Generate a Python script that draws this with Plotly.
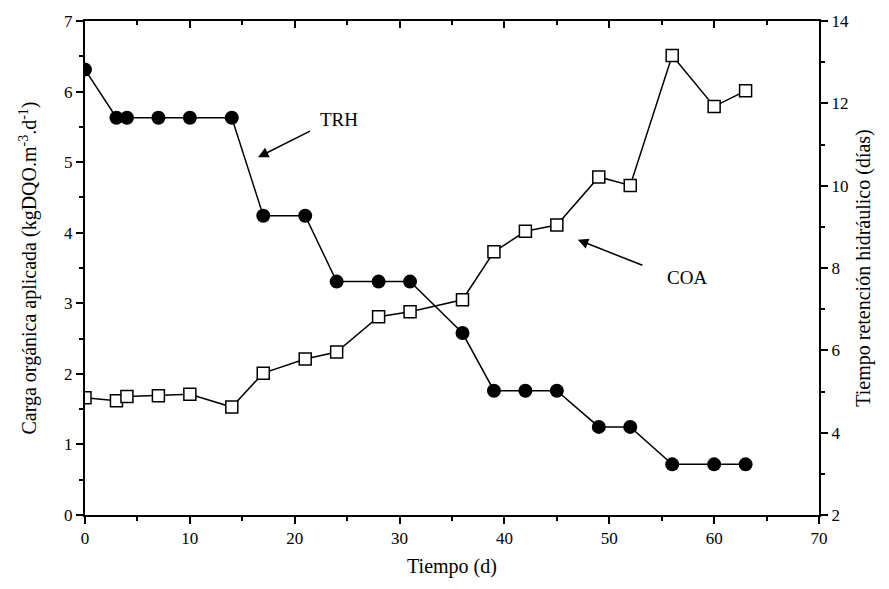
import plotly.graph_objects as go

# Data
dias = [0, 3, 4, 7, 10, 14, 17, 21, 24, 28, 31, 36, 39, 42, 45, 49, 52, 56, 60, 63]
trh_dias = [12.82, 11.65, 11.65, 11.65, 11.65, 11.65, 9.27, 9.27, 7.67, 7.67, 7.67,
            6.42, 5.02, 5.02, 5.02, 4.14, 4.14, 3.23, 3.23, 3.23]
coa = [1.66, 1.62, 1.68, 1.69, 1.71, 1.53, 2.01, 2.21, 2.31, 2.81, 2.88,
       3.05, 3.73, 4.02, 4.11, 4.79, 4.67, 6.51, 5.79, 6.01]

x_ticks = [0, 10, 20, 30, 40, 50, 60, 70]
yl_ticks = [0, 1, 2, 3, 4, 5, 6, 7]
yr_ticks = [2, 4, 6, 8, 10, 12, 14]

FONT = "Liberation Serif"

fig = go.Figure()

fig.add_trace(go.Scatter(
    x=dias, y=coa, mode="lines+markers", name="COA",
    line=dict(color="black", width=1.5),
    marker=dict(symbol="square", size=12, color="white",
                line=dict(color="black", width=1.5)),
    xaxis="x", yaxis="y", showlegend=False))

fig.add_trace(go.Scatter(
    x=dias, y=trh_dias, mode="lines+markers", name="TRH",
    line=dict(color="black", width=1.5),
    marker=dict(symbol="circle", size=14, color="black"),
    xaxis="x", yaxis="y2", showlegend=False))

# dummy trace for the top axis
fig.add_trace(go.Scatter(x=[None], y=[None], xaxis="x2", yaxis="y",
                         showlegend=False, hoverinfo="skip"))

tickfont = dict(family=FONT, size=17, color="black")
titlefont = dict(family=FONT, size=20, color="black")

fig.update_layout(
    width=889, height=589,
    margin=dict(l=85, r=70, t=19, b=74),
    paper_bgcolor="white", plot_bgcolor="white",
    font=dict(family=FONT, color="black"),
    xaxis=dict(range=[0, 70], tickvals=x_ticks, ticks="outside", ticklen=7,
               tickwidth=1.5, tickcolor="black", showline=True, linecolor="black",
               linewidth=2, showgrid=False, zeroline=False, tickfont=tickfont,
               minor=dict(dtick=5, ticks="outside", ticklen=4, tickwidth=1.5,
                          tickcolor="black"),
               title=dict(text="Tiempo (d)", font=titlefont, standoff=12)),
    xaxis2=dict(range=[0, 70], overlaying="x", side="top", tickvals=x_ticks,
                ticks="inside", ticklen=7, tickwidth=1.5, tickcolor="black",
                showline=True, linecolor="black", linewidth=2, showgrid=False,
                zeroline=False, showticklabels=False,
                minor=dict(dtick=5, ticks="inside", ticklen=4, tickwidth=1.5,
                           tickcolor="black")),
    yaxis=dict(range=[0, 7], tickvals=yl_ticks, ticks="outside", ticklen=7,
               tickwidth=1.5, tickcolor="black", showline=True, linecolor="black",
               linewidth=2, showgrid=False, zeroline=False, tickfont=tickfont,
               minor=dict(dtick=0.5, ticks="outside", ticklen=4, tickwidth=1.5,
                          tickcolor="black"),
               title=dict(text="Carga orgánica aplicada (kgDQO.m<sup>-3</sup>.d<sup>-1</sup>)",
                          font=titlefont, standoff=22)),
    yaxis2=dict(range=[2, 14], tickvals=yr_ticks, overlaying="y", side="right",
                ticks="outside", ticklen=7, tickwidth=1.5, tickcolor="black",
                showline=True, linecolor="black", linewidth=2, showgrid=False,
                zeroline=False, tickfont=tickfont,
                minor=dict(dtick=1, ticks="outside", ticklen=4, tickwidth=1.5,
                           tickcolor="black"),
                title=dict(text="Tiempo retención hidráulico (días)",
                           font=titlefont, standoff=8)),
)

fig.add_annotation(x=16.5, y=5.07, ax=21.6, ay=5.45, xref="x", yref="y",
                   axref="x", ayref="y", text="", showarrow=True,
                   arrowhead=2, arrowsize=1.4, arrowwidth=1.5, arrowcolor="black")
fig.add_annotation(x=24.2, y=5.60, xref="x", yref="y", text="TRH",
                   showarrow=False, font=dict(family=FONT, size=19, color="black"))

fig.add_annotation(x=47.0, y=3.90, ax=53.3, ay=3.53, xref="x", yref="y",
                   axref="x", ayref="y", text="", showarrow=True,
                   arrowhead=2, arrowsize=1.4, arrowwidth=1.5, arrowcolor="black")
fig.add_annotation(x=57.4, y=3.36, xref="x", yref="y", text="COA",
                   showarrow=False, font=dict(family=FONT, size=19, color="black"))

fig.write_html("out.html")
